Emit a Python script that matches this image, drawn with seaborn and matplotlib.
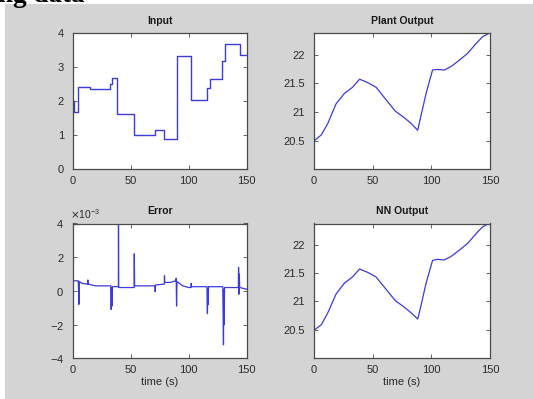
import matplotlib
matplotlib.use("Agg")
import matplotlib.pyplot as plt
from matplotlib.patches import Rectangle
from matplotlib.ticker import ScalarFormatter
import seaborn as sns
import pandas as pd

# ---------------- data ----------------
input_t = [0, 1, 5, 15, 32, 34, 38, 53, 71, 79, 90, 102, 116, 118, 129, 131, 144, 150]
input_v = [2.0, 1.7, 2.41, 2.35, 2.5, 2.7, 1.62, 1.01, 1.15, 0.88, 3.33, 2.03, 2.4, 2.65, 3.2, 3.7, 3.35, 3.35]

plant_t = [0, 6.5, 12, 19, 26, 33, 39, 46, 53, 61.6, 69.5, 75.7, 82.8, 88.4, 91, 95.5,
           101, 105, 111, 116.7, 123.7, 130.8, 137.9, 143.5, 150]
plant_v = [20.49, 20.60, 20.80, 21.14, 21.32, 21.43, 21.57, 21.51, 21.43, 21.21, 21.01,
           20.92, 20.80, 20.68, 20.92, 21.32, 21.73, 21.74, 21.73, 21.79, 21.90, 22.02,
           22.19, 22.31, 22.38]

nn_t = [0, 6.5, 12, 19, 26, 33, 39, 46, 53, 61.6, 69.5, 75.7, 82.8, 88.4, 91, 95.5,
        101, 105, 111, 116.7, 123.7, 130.8, 137.9, 143.5, 150]
nn_v = [20.49, 20.59, 20.80, 21.13, 21.32, 21.43, 21.57, 21.51, 21.43, 21.21, 21.01,
        20.92, 20.80, 20.69, 20.91, 21.32, 21.72, 21.74, 21.73, 21.79, 21.90, 22.02,
        22.19, 22.31, 22.38]

err_t = [0, 5, 5.5, 6, 8, 13, 13.2, 13.5, 20, 33, 33.3, 33.6, 34, 34.3, 39.5, 39.6, 39.8,
         53, 53.2, 53.5, 71, 71.2, 71.5, 79, 79.2, 79.5, 84, 89, 89.3, 89.6, 90, 95, 100,
         102, 102.2, 102.5, 115.8, 116.0, 116.2, 116.5, 116.8, 117.1, 129.4, 129.7, 130.0,
         130.3, 130.6, 130.9, 142.8, 143.0, 143.3, 143.6, 144.0, 150]
err_v = [0.6e-3, 0.6e-3, -0.8e-3, 0.55e-3, 0.45e-3, 0.4e-3, 0.65e-3, 0.4e-3, 0.3e-3,
         0.3e-3, -1.1e-3, 0.2e-3, -0.9e-3, 0.25e-3, 0.25e-3, 4.0e-3, 0.2e-3,
         0.2e-3, 2.2e-3, 0.3e-3, 0.3e-3, -0.05e-3, 0.35e-3, 0.4e-3, 0.9e-3, 0.5e-3,
         0.5e-3, 0.6e-3, 0.75e-3, -0.9e-3, 0.55e-3, 0.3e-3, 0.2e-3,
         0.2e-3, 0.45e-3, 0.25e-3, 0.25e-3, -1.0e-3, -1.35e-3, 0.1e-3, -0.8e-3, 0.25e-3,
         0.25e-3, -1.5e-3, -3.2e-3, 0.1e-3, -2.0e-3, 0.2e-3, 0.2e-3, 1.4e-3, -0.2e-3,
         1.0e-3, 0.2e-3, 0.1e-3]

x_ticks = [0, 50, 100, 150]

# ---------------- style ----------------
plt.rcParams['font.family'] = ['Liberation Sans', 'DejaVu Sans']
LINE = '#3b3bdc'
SPINE = '#4a4a4a'
TXT = '#2a2a2a'

fig = plt.figure(figsize=(5.33, 3.99), dpi=100, facecolor='white')
W, H = 533, 399
bg = Rectangle((5 / W, 0), 1 - 5 / W, 1 - 4 / H, transform=fig.transFigure,
               facecolor='#d4d4d4', edgecolor='none', zorder=-10)
fig.patches.append(bg)
fig.text(-2 / W, 1 - 2.5 / H, "ng data", family=['Liberation Serif', 'DejaVu Serif'],
         weight='bold', fontsize=19.5, va='baseline', ha='left', color='black')


def ax_rect(l, t, r, b):
    return [l / W, 1 - b / H, (r - l) / W, (b - t) / H]


axs = {
    'in': fig.add_axes(ax_rect(72.5, 33.3, 246.7, 169.3)),
    'pl': fig.add_axes(ax_rect(313.7, 33.3, 490.2, 169.3)),
    'er': fig.add_axes(ax_rect(72.5, 223.5, 246.7, 358.3)),
    'nn': fig.add_axes(ax_rect(313.7, 223.5, 490.2, 358.3)),
}

df_in = pd.DataFrame({'t': input_t, 'v': input_v})
df_pl = pd.DataFrame({'t': plant_t, 'v': plant_v})
df_nn = pd.DataFrame({'t': nn_t, 'v': nn_v})
df_er = pd.DataFrame({'t': err_t, 'v': err_v})

sns.lineplot(data=df_in, x='t', y='v', ax=axs['in'], color=LINE, lw=1.0,
             drawstyle='steps-post', estimator=None, sort=False)
sns.lineplot(data=df_pl, x='t', y='v', ax=axs['pl'], color=LINE, lw=0.9,
             estimator=None, sort=False)
sns.lineplot(data=df_nn, x='t', y='v', ax=axs['nn'], color=LINE, lw=0.9,
             estimator=None, sort=False)
sns.lineplot(data=df_er, x='t', y='v', ax=axs['er'], color=LINE, lw=0.9,
             estimator=None, sort=False)

titles = {'in': 'Input', 'pl': 'Plant Output', 'er': 'Error', 'nn': 'NN Output'}
for k, ax in axs.items():
    ax.set_zorder(1)
    ax.set_facecolor('white')
    ax.set_xlim(0, 150)
    ax.set_xticks(x_ticks)
    ax.set_title(titles[k], fontsize=7.5, weight='bold', color='#1a1a1a', pad=6.5)
    ax.set_ylabel('')
    ax.set_xlabel('')
    for s in ax.spines.values():
        s.set_color(SPINE)
        s.set_linewidth(0.9)
    ax.tick_params(direction='in', length=3, width=0.6, top=True, right=True,
                   colors=SPINE, labelcolor=TXT, labelsize=8)
    ax.tick_params(axis='x', pad=5)
    ax.tick_params(axis='y', pad=6)

axs['in'].set_ylim(0, 4)
axs['in'].set_yticks([0, 1, 2, 3, 4])
for k in ('pl', 'nn'):
    axs[k].set_ylim(20.0, 22.37)
    axs[k].set_yticks([20.5, 21, 21.5, 22])
    axs[k].set_yticklabels(['20.5', '21', '21.5', '22'])
axs['er'].set_ylim(-4e-3, 4e-3)
axs['er'].set_yticks([-4e-3, -2e-3, 0, 2e-3, 4e-3])
fmt = ScalarFormatter(useMathText=True)
fmt.set_powerlimits((-2, 2))
axs['er'].yaxis.set_major_formatter(fmt)
off = axs['er'].yaxis.get_offset_text()
off.set_fontsize(7.5)
off.set_color(TXT)
off.set_x(-0.015)

for k in ('er', 'nn'):
    axs[k].set_xlabel('time (s)', fontsize=8, color=TXT, labelpad=1)

fig.savefig('out.png', dpi=100, facecolor=fig.get_facecolor())
